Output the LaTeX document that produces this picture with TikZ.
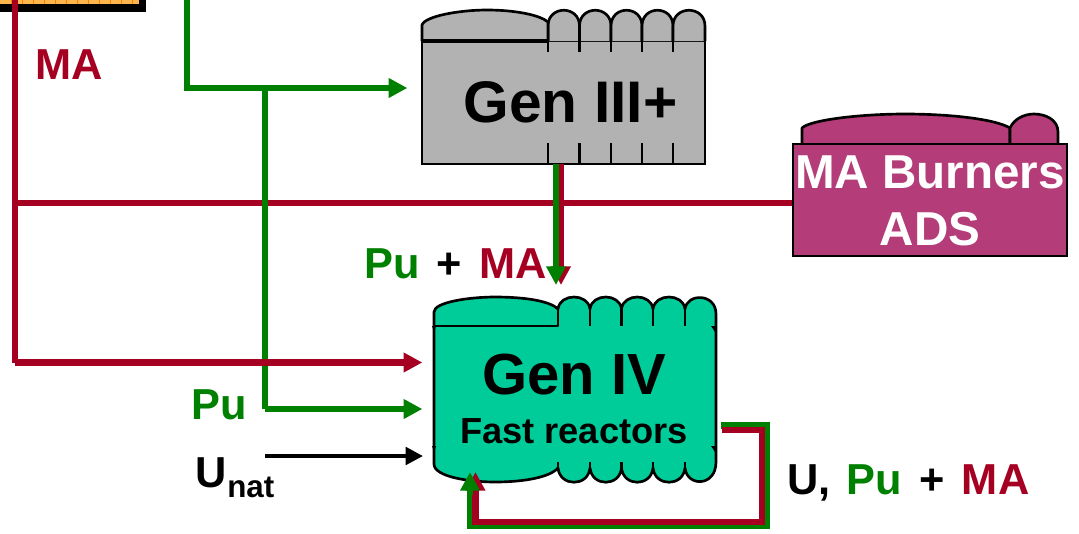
\documentclass[tikz,border=0pt]{standalone}
\usepackage{fontspec}
\setmainfont{Liberation Sans}
\usetikzlibrary{arrows.meta}
\definecolor{maRed}{HTML}{A50021}
\definecolor{puGreen}{HTML}{008000}
\definecolor{genGray}{HTML}{B2B2B2}
\definecolor{genTeal}{HTML}{00CC99}
\definecolor{burnPink}{HTML}{B43C78}
\definecolor{fuelOrange}{HTML}{FFB74D}
\tikzset{
  redline/.style={draw=maRed,line width=4.6pt,line join=miter},
  greenline/.style={draw=puGreen,line width=4.6pt,line join=miter},
  blackline/.style={draw=black,line width=3pt},
  redtip/.style={-{Triangle[length=14pt,width=14pt,color=maRed]}},
  greentip/.style={-{Triangle[length=14pt,width=14pt,color=puGreen]}},
  blacktip/.style={-{Triangle[length=13pt,width=13pt,color=black]}},
  outline/.style={draw=black,line width=2pt,line join=round},
  thinout/.style={draw=black,line width=1.8pt},
  bodybox/.style={inner sep=0pt,outer sep=0pt,anchor=north west},
  lab/.style={inner sep=0pt,anchor=base,font=\bfseries},
}
\newcommand{\fs}[1]{\fontsize{#1}{#1}\selectfont}
\begin{document}
\begin{tikzpicture}[x=0.75pt,y=-0.75pt]
\useasboundingbox (0,0) rectangle (1079,533);
% top-left fuel box
\fill[black] (0,0) rectangle (146,12);
\fill[fuelOrange] (0,0) rectangle (139,4);
\foreach \x in {11,22,...,132}{\draw[draw=orange,line width=.5pt] (\x,0) -- (\x,4);}
\node[bodybox,minimum width=146*0.75pt,minimum height=12*0.75pt] (fuel) at (0,0) {};

% named points of the connectors
\coordinate (redTop) at (15,0);
\coordinate (redMid) at (15,203);
\coordinate (redLow) at (15,362.5);
\coordinate (greenTop) at (187,0);
\coordinate (greenBend) at (187,88);
\coordinate (greenTee) at (265,88);
\coordinate (greenLow) at (265,409);
\coordinate (blackStart) at (265,456);
\coordinate (downGreenEnd) at (556,285);
\coordinate (downRedEnd) at (561,285);
\coordinate (downGreenStart) at (556,164);
\coordinate (downRedStart) at (561,164);

% Connectors below the reactors
\draw[redline] (redTop) -- (redLow);
\draw[redline] (redMid) -- (800,203) coordinate (burnEntry);
\draw[greenline] (greenTop) -- (greenBend) -- (greenTee);
\draw[greenline] (greenTee) -- (greenLow);

% Gen III+
\node[bodybox,minimum width=283*0.75pt,minimum height=123*0.75pt,fill=genGray,thinout] (gen3) at (422,41) {};
\foreach \a/\b in {548/579.5,579.5/611,611/642,642/673,673/705}{
  \filldraw[fill=genGray,outline] (\a,41) -- (\a,26) .. controls (\a,5) and (\b,5) .. (\b,26) -- (\b,41);
  \draw[outline] (\a,41) -- (\a,52);
  \draw[outline] (\a,143) -- (\a,164);
}
\filldraw[fill=genGray,outline] (422,41) -- (422,25) .. controls (425,16) and (460,10) .. (487,10) .. controls (515,10) and (540,15) .. (548,22) -- (548,41) -- cycle;
\draw[draw=black,line width=2.4pt] (422,41) -- (548,41);
\node[lab,text=black,font=\bfseries\fs{44}] (gen3label) at (570.5,122) {Gen III+};

% MA burners
\node[bodybox,minimum width=274*0.75pt,minimum height=112*0.75pt,fill=burnPink,thinout] (burn) at (793,144) {};
\filldraw[fill=burnPink,outline] (802,144) -- (802,128) .. controls (810,120) and (860,114) .. (905,114) .. controls (950,114) and (995,119) .. (1010,128) -- (1010,144);
\filldraw[fill=burnPink,outline] (1010,144) -- (1010,128) .. controls (1014,119) and (1024,114) .. (1034,114) .. controls (1046,114) and (1058,120) .. (1058,132) -- (1058,144);
\draw[outline] (802,144) -- (1058,144);
\node[lab,text=white,font=\bfseries\fs{35.7}] (burnA) at (930,188) {MA Burners};
\node[lab,text=white,font=\bfseries\fs{35.7}] (burnB) at (930,245) {ADS};

% Gen IV
\filldraw[fill=genTeal,outline]
  (434,312) .. controls (434,302) and (470,297) .. (495,297) .. controls (525,297) and (550,301) .. (558,309)
  .. controls (560,293) and (588,293) .. (590,309)
  .. controls (592,293) and (619.5,293) .. (621.5,309)
  .. controls (623.5,293) and (651,293) .. (653,309)
  .. controls (655,293) and (683,293) .. (685,309)
  .. controls (687,293) and (716,293) .. (716,314)
  -- (716,462)
  .. controls (716,487) and (687,487) .. (685,468)
  .. controls (683,487) and (655,487) .. (653,468)
  .. controls (651,487) and (623.5,487) .. (621.5,468)
  .. controls (619.5,487) and (592,487) .. (590,468)
  .. controls (588,487) and (560,487) .. (558,468)
  .. controls (550,477) and (525,482) .. (495,482)
  .. controls (470,482) and (434,477) .. (434,464) -- cycle;
\node[bodybox,minimum width=283*0.75pt,minimum height=136*0.75pt] (gen4) at (433,326) {};
\draw[outline] (434,326) -- (558,326) -- (558,308);
\foreach \x in {590,621.5,653,685}{
  \draw[outline] (\x,308) -- (\x,326);
  \draw[outline] (\x,462) -- (\x,469);
}
\draw[outline] (558,462) -- (558,469);
\foreach \x/\y in {433/329,433/449}{\fill[black] (\x-1,\y-3) -- (\x+3,\y-3) -- (\x+1,\y+3) -- cycle;}
\foreach \x/\y in {714/329,714/449}{\fill[black] (\x-3,\y-3) -- (\x+2,\y-3) -- (\x+1,\y+3) -- cycle;}
\node[lab,text=black,font=\bfseries\fs{43.5}] (gen4label) at (574,394) {Gen IV};
\node[lab,text=black,font=\bfseries\fs{27.2}] (gen4sub) at (574,443) {Fast reactors};

% Connectors above the reactors
\draw[greenline,greentip,shorten >=11pt] (greenTee) -- (gen3.west |- greenTee);
\draw[redline,redtip,shorten >=8pt] (redLow) -- (gen4.west |- redLow);
\draw[greenline,greentip,shorten >=8pt] (greenLow) -- (gen4.west |- greenLow);
\draw[blackline,blacktip,shorten >=7.5pt] (blackStart) -- (gen4.west |- blackStart);
\draw[redline,redtip] (downRedStart) -- (downRedEnd);
\draw[greenline,greentip] (downGreenStart) -- (downGreenEnd);
\coordinate (gA) at (721,425.5);
\coordinate (gB) at (767,425.5);
\coordinate (gC) at (767,526);
\coordinate (gD) at (470,526);
\coordinate (gE) at (470,472);
\coordinate (gF) at (470,495);
\coordinate (rA) at (722,430);
\coordinate (rB) at (762,430);
\coordinate (rC) at (762,522);
\coordinate (rD) at (475.5,522);
\coordinate (rE) at (475.5,472);
\draw[greenline] (gA) -- (gB) -- (gC) -- (gD) -- (gF);
\draw[redline,redtip] (rA) -- (rB) -- (rC) -- (rD) -- (rE);
\draw[greenline,greentip] (gF) -- (gE);

% labels
\node[lab,text=maRed,font=\bfseries\fs{32.5}] (maLabel) at (69.5,79) {MA};
\node[lab,text=puGreen,font=\bfseries\fs{32.5}] (puLabel) at (219,419) {Pu};
\node[lab,anchor=base west,font=\bfseries\fs{32.5}] (puMa) at (364,278) {\textcolor{puGreen}{Pu}\hspace{13pt}\textcolor{black}{+}\hspace{13pt}\textcolor{maRed}{MA}};
\node[lab,anchor=base west,text=black,font=\bfseries\fs{32.5}] (uLabel) at (195,487) {U};
\node[lab,anchor=base west,text=black,font=\bfseries\fs{23.5}] (natLabel) at (227,497) {nat};
\node[lab,anchor=base west,font=\bfseries\fs{32.5}] (loopLabel) at (787,494) {\textcolor{black}{U,}\hspace{12pt}\textcolor{puGreen}{Pu}\hspace{13pt}\textcolor{black}{+}\hspace{13pt}\textcolor{maRed}{MA}};
\end{tikzpicture}
\end{document}
